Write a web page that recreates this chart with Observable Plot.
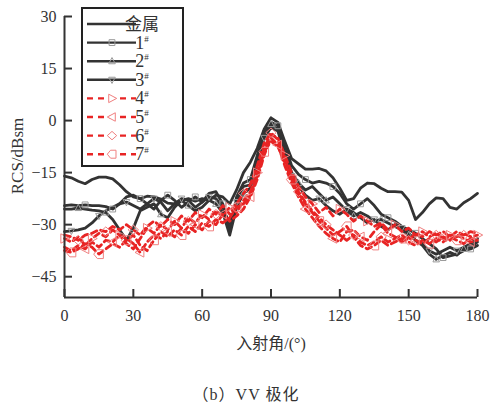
<!DOCTYPE html>
<html><head><meta charset="utf-8">
<script src="https://cdn.jsdelivr.net/npm/d3@7"></script>
<script src="https://cdn.jsdelivr.net/npm/@observablehq/plot@0.6"></script>
<style>
body{margin:0;background:#fff;}
#wrap{position:relative;width:492px;height:407px;overflow:hidden;}
#chart svg text{font-family:'Liberation Serif','Times New Roman','Noto Sans CJK SC',serif;}
#caption{position:absolute;left:0;top:381px;width:492px;text-align:center;font-family:'Liberation Serif','Noto Sans CJK SC',serif;font-size:16px;color:#333;letter-spacing:1px;}
</style></head><body><div id="wrap"><div id="chart"></div><div id="caption">（b）VV 极化</div></div>
<script>
const angles = [0,3,6,9,12,15,18,21,24,27,30,33,36,39,42,45,48,51,54,57,60,63,66,69,72,75,78,81,84,87,90,93,96,99,102,105,108,111,114,117,120,123,126,129,132,135,138,141,144,147,150,153,156,159,162,165,168,171,174,177,180];
const seriesNames = ["金属","1","2","3","4","5","6","7"];
const metal = [-16,-16.5,-17.5,-18.2,-17,-16.3,-16.3,-16.8,-18.5,-20.5,-22,-22.5,-21.8,-22,-22.6,-23.8,-24,-23,-22.5,-23.2,-22.5,-23,-21.5,-22,-24,-20,-15,-12,-8,-2.5,0.8,-0.5,-6,-11,-12.5,-14,-14,-13.8,-14.5,-16.5,-19.5,-23,-22.5,-19.5,-18,-18.2,-19.5,-20.5,-20.5,-20.6,-23,-28.5,-26.5,-24,-22.3,-22.5,-25,-25.5,-23.7,-22.5,-21];
const s1 = [-24.5,-24.3,-24.5,-24.3,-24.5,-24.5,-24.8,-25.5,-24,-22,-21.5,-22.5,-24,-25.5,-23,-21.5,-23,-25,-23.5,-22,-23.5,-21,-20.5,-24,-32,-22,-18,-17,-10,-3,-0.5,-1.5,-7,-13,-15.5,-17,-18,-17.5,-18,-19,-21,-24,-25.5,-24,-22.5,-24.5,-27,-28,-29,-30.5,-31.5,-32.5,-34,-35.5,-37,-39.5,-39,-38.5,-37.5,-37,-36];
const s2 = [-25.5,-25.5,-25.2,-25.5,-25.8,-26,-26.5,-28.5,-31.5,-34.5,-31,-26,-25,-24,-27,-28,-25,-23,-24.5,-26,-25,-23,-24,-26.5,-33,-25,-21,-19.5,-12,-4,-1,-2.5,-9,-15,-18,-20,-19,-21,-23,-22,-24,-26,-27.5,-26.5,-27.5,-29,-28.5,-29.5,-30.5,-31.5,-33,-34.5,-36,-38.5,-40,-39,-38,-38.8,-37,-36.5,-35];
const s3 = [-32,-31.8,-31.5,-31,-29.5,-27.5,-26,-25,-24,-23.5,-24.5,-25.5,-24,-22.5,-23.5,-26,-24,-22.5,-23,-25,-23.5,-22,-22.5,-25,-30,-23.5,-19,-18.5,-13,-5,-2,-3,-10,-16,-19,-21.5,-23,-22.5,-24.5,-26,-27,-25.5,-26.5,-28,-29.5,-28.5,-30.5,-31.5,-30,-31,-32.5,-34.5,-35.5,-37.5,-38.5,-37.5,-36.5,-37.5,-36.5,-35.5,-34];
const s4 = [-34,-35,-33.5,-36,-34,-32.5,-33.5,-31.5,-33,-35.5,-37,-34,-31,-32.5,-30,-31.5,-29,-31,-28,-29.5,-27,-28.5,-26,-27.5,-25,-26.5,-23,-20.5,-15,-8,-4,-5,-10,-15,-19,-22,-24,-26.5,-25,-27.5,-25.5,-27,-29,-27.5,-29,-30.5,-29.5,-31.5,-30,-32,-31,-33,-32,-33.5,-32.5,-34,-33,-33.5,-32.5,-33.5,-33];
const s5 = [-36.5,-37.5,-36,-37,-35,-36.5,-34.5,-35,-33,-34,-35.5,-38,-35,-33,-34,-32,-33.5,-31,-32.5,-30,-31.5,-29,-30,-27,-29,-27.5,-25.5,-22,-17,-10,-5,-7,-13,-18,-22,-25.5,-28,-30.5,-32.5,-34,-35,-32,-31.5,-33.5,-34.5,-32,-30,-32.5,-33.5,-35,-33.5,-34.5,-35.5,-34,-35,-33.5,-34.5,-33,-34,-35,-34.5];
const s6 = [-33,-33.5,-34.5,-33,-32.5,-31.5,-32,-30.5,-31.5,-30,-31.5,-33,-30.5,-29,-30.5,-28.5,-30,-27.5,-29,-26.5,-28,-25.5,-27,-24.5,-27,-24,-21,-18.5,-13,-6.5,-3.5,-5.5,-11,-16.5,-20.5,-23.5,-26,-28,-30,-31.5,-33,-34.5,-33,-35,-36,-35,-33.5,-35,-34,-33,-34.5,-32.5,-33.5,-32,-33,-32,-33.5,-32,-33,-32,-32.5];
const s7 = [-37.5,-38,-37,-35.5,-36.5,-38.5,-37,-35.5,-36.5,-34.5,-33,-36,-37.5,-34.5,-32,-33.5,-31.5,-33,-30.5,-32,-29.5,-30.5,-28.5,-29.5,-28,-25,-24,-21.5,-16,-9,-6,-7.5,-12,-17,-21,-24,-26.5,-29,-31,-33,-32,-30.5,-33.5,-36,-37,-36,-34.5,-36,-35,-34,-35,-36,-34.5,-35.5,-34,-35,-33.5,-34.5,-35.5,-34,-34];
const xTicks = [0,30,60,90,120,150,180];
const yTicks = [30,15,0,-15,-30,-45];
const yDomain = [-51,30];
const xLabel = "入射角/(°)";
const yLabel = "RCS/dBsm";

const allValues = [metal,s1,s2,s3,s4,s5,s6,s7];
const BLACK = "#333333", RED = "#e82424", RED_MK = "#f08080", GRAY_MK = "#9a9a9a";
const FONT = "Liberation Serif, Times New Roman, Noto Sans CJK SC, serif";

const poly = (pts) => ({draw(ctx, size){ const r = Math.sqrt(size)/1.7; pts.forEach(([x,y],i)=> i ? ctx.lineTo(x*r,y*r) : ctx.moveTo(x*r,y*r)); ctx.closePath(); }});
const symbols = [
  null,
  poly([[-0.8,-0.8],[0.8,-0.8],[0.8,0.8],[-0.8,0.8]]),
  poly([[0,-1],[0.9,0.7],[-0.9,0.7]]),
  poly([[0,1],[0.9,-0.7],[-0.9,-0.7]]),
  poly([[1,0],[-0.7,-0.9],[-0.7,0.9]]),
  poly([[-1,0],[0.7,-0.9],[0.7,0.9]]),
  poly([[-1,0],[0,-0.9],[1,0],[0,0.9]]),
  poly([[-1,0],[-0.3,-0.85],[0.85,-0.85],[0.85,0.85],[-0.3,0.85]])
];

const rows = [];
allValues.forEach((vals, si) => vals.forEach((v, i) => rows.push({series: si, name: seriesNames[si], angle: angles[i], rcs: v, idx: i})));
const blackRows = rows.filter(d => d.series < 4);
const redRows = rows.filter(d => d.series >= 4);
const markRows = rows.filter(d => d.series > 0 && (d.idx + d.series) % 4 === 0);

const plot = Plot.plot({
  width: 492, height: 355,
  marginLeft: 64, marginRight: 15, marginTop: 16, marginBottom: 58,
  x: {domain: [0,180]},
  y: {domain: yDomain},
  style: {fontFamily: FONT, fontSize: "16px", color: "#333", background: "#fff"},
  marks: [
    Plot.line(blackRows, {x: "angle", y: "rcs", z: "series", stroke: BLACK, strokeWidth: 2.8}),
    Plot.dot(markRows.filter(d => d.series < 4), {x: "angle", y: "rcs", symbol: d => symbols[d.series], r: 3.5, stroke: GRAY_MK, strokeWidth: 1, fill: "none"}),
    Plot.line(redRows, {x: "angle", y: "rcs", z: "series", stroke: RED, strokeWidth: 2.8, strokeDasharray: "6,4"}),
    Plot.dot(markRows.filter(d => d.series >= 4), {x: "angle", y: "rcs", symbol: d => symbols[d.series], r: 5, stroke: RED_MK, strokeWidth: 1, fill: "none"}),
    Plot.ruleX([0], {stroke: BLACK, strokeWidth: 2}),
    Plot.ruleY([yDomain[0]], {stroke: BLACK, strokeWidth: 2}),
    Plot.axisX({ticks: xTicks, tickSize: -8, tickPadding: 20, label: null, stroke: BLACK, strokeWidth: 2, fill: "#333"}),
    Plot.axisY({ticks: yTicks, tickSize: -8, tickFormat: () => "", label: null, stroke: BLACK, strokeWidth: 2}),
    Plot.axisY({ticks: yTicks, tickSize: 0, tickPadding: 8, label: null, fill: "#333"})
  ]
});
document.getElementById("chart").appendChild(plot);

const svg = d3.select(plot);
svg.append("text").attr("x", 271).attr("y", 349).attr("text-anchor", "middle")
  .attr("font-size", 16).attr("fill", "#333").text(xLabel);
svg.append("text").attr("transform", "translate(23,156) rotate(-90)").attr("text-anchor", "middle")
  .attr("font-size", 17).attr("fill", "#333").text(yLabel);

// legend
const lg = svg.append("g").attr("transform", "translate(82,8)");
lg.append("rect").attr("x", 0).attr("y", 0).attr("width", 101).attr("height", 158).attr("fill", "#fff").attr("stroke", "#222").attr("stroke-width", 2);
seriesNames.forEach((nm, i) => {
  const y = 16 + i * 18.6;
  const red = i >= 4;
  lg.append("line").attr("x1", 5).attr("x2", 54).attr("y1", y).attr("y2", y)
    .attr("stroke", red ? RED : BLACK).attr("stroke-width", 2.4).attr("stroke-dasharray", red ? "6,5" : null);
  if (i > 0) {
    const p = d3.path();
    symbols[i].draw(p, (red ? 4.5 : 3.5) ** 2 * Math.PI);
    lg.append("path").attr("d", p.toString()).attr("transform", `translate(30,${y})`)
      .attr("fill", red ? "#fff" : "none").attr("stroke", red ? RED_MK : GRAY_MK).attr("stroke-width", 1);
  }
  const t = lg.append("text").attr("x", 60).attr("y", y + 6).attr("fill", "#333")
    .attr("font-size", i === 0 ? 17 : 18);
  t.append("tspan").text(nm);
  if (i > 0) t.append("tspan").attr("font-size", 9).attr("dy", -7).text("#");
});
</script></body></html>
